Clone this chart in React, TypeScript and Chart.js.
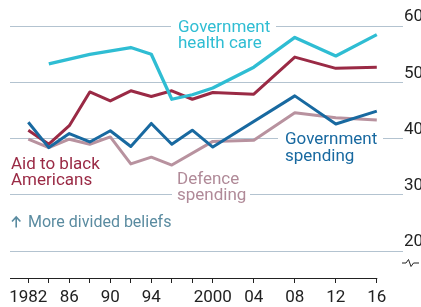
import React, { useEffect, useRef } from "react";
import { Chart, registerables } from "chart.js";

Chart.register(...registerables);

// ---- Data ----
const healthYears = [1984, 1988, 1992, 1994, 1996, 1998, 2000, 2004, 2008, 2012, 2016];
const healthValues = [53.3, 55.0, 56.2, 55.0, 47.0, 47.8, 49.0, 52.7, 58.0, 54.7, 58.5];

const aidYears = [1982, 1984, 1986, 1988, 1990, 1992, 1994, 1996, 1998, 2000, 2004, 2008, 2012, 2016];
const aidValues = [41.5, 39.0, 42.3, 48.3, 46.7, 48.5, 47.5, 48.5, 47.0, 48.2, 47.9, 54.5, 52.5, 52.7];

const spendingYears = [1982, 1984, 1986, 1988, 1990, 1992, 1994, 1996, 1998, 2000, 2008, 2012, 2016];
const spendingValues = [42.9, 38.4, 40.9, 39.4, 41.4, 38.6, 42.7, 39.0, 41.5, 38.5, 47.6, 42.6, 44.9];

const defenceYears = [1982, 1984, 1986, 1988, 1990, 1992, 1994, 1996, 2000, 2004, 2008, 2012, 2016];
const defenceValues = [39.9, 38.4, 39.9, 39.0, 40.3, 35.5, 36.7, 35.3, 39.5, 39.7, 44.6, 43.7, 43.3];

const xTickYears = [1982, 1984, 1986, 1988, 1990, 1992, 1994, 1996, 1998, 2000, 2004, 2008, 2012, 2016];
const xLabelYears = [1982, 1986, 1990, 1994, 2000, 2004, 2008, 2012, 2016];
const yTickValues = [20, 30, 40, 50, 60];

const COLORS = {
  health: "#2fbdd3",
  aid: "#9a2a45",
  spending: "#1869a0",
  defence: "#b8929f",
  defenceText: "#b08a98",
  note: "#5a8ba0",
  grid: "#b3c3d0",
  axis: "#222222",
};

const FONT = "Roboto, 'Noto Sans', sans-serif";

function toPoints(xs: number[], ys: number[]) {
  return xs.map((x, i) => ({ x, y: ys[i] }));
}

function formatYear(v: number) {
  if (!xLabelYears.includes(v)) return "";
  if (v === 1982 || v === 2000) return String(v);
  return String(v % 100).padStart(2, "0");
}

const decorPlugin = {
  id: "decor",
  beforeDatasetsDraw(chart: any) {
    const { ctx } = chart;
    const y = chart.scales.y;
    ctx.save();
    ctx.fillStyle = "#ffffff";
    const gaps = [
      { v: 60, x0: 171, x1: 276 },
      { v: 40, x0: 278, x1: 383 },
      { v: 30, x0: 172, x1: 250 },
    ];
    gaps.forEach((g) => {
      const py = y.getPixelForValue(g.v);
      ctx.fillRect(g.x0, py - 2, g.x1 - g.x0, 4);
    });
    ctx.restore();
  },
  afterDatasetsDraw(chart: any) {
    const { ctx, chartArea } = chart;
    const x = chart.scales.x;
    ctx.save();
    // x axis line
    ctx.strokeStyle = COLORS.axis;
    ctx.lineWidth = 1;
    ctx.beginPath();
    ctx.moveTo(chartArea.left, chartArea.bottom + 0.5);
    ctx.lineTo(x.getPixelForValue(2016) + 0.5, chartArea.bottom + 0.5);
    ctx.stroke();

    // axis break symbol
    ctx.beginPath();
    ctx.moveTo(402, 263);
    ctx.lineTo(406, 263);
    ctx.lineTo(408.5, 259.5);
    ctx.lineTo(411, 266.5);
    ctx.lineTo(413.5, 263);
    ctx.lineTo(419, 263);
    ctx.stroke();

    // labels
    ctx.textBaseline = "alphabetic";
    ctx.textAlign = "left";
    ctx.font = `17px ${FONT}`;
    ctx.fillStyle = COLORS.health;
    ctx.fillText("Government", 178, 31.5);
    ctx.fillText("health care", 178, 47.5);

    ctx.fillStyle = COLORS.aid;
    ctx.fillText("Aid to black", 11, 168.5);
    ctx.fillText("Americans", 11, 184.5);

    ctx.fillStyle = COLORS.defenceText;
    ctx.fillText("Defence", 177, 183.5);
    ctx.fillText("spending", 177, 199.5);

    ctx.fillStyle = COLORS.spending;
    ctx.fillText("Government", 285, 144);
    ctx.fillText("spending", 285, 160.5);

    // "More divided beliefs" with arrow
    ctx.fillStyle = COLORS.note;
    ctx.strokeStyle = COLORS.note;
    ctx.lineWidth = 1.6;
    ctx.beginPath();
    ctx.moveTo(16.2, 227.5);
    ctx.lineTo(16.2, 217);
    ctx.moveTo(12, 221.5);
    ctx.lineTo(16.2, 217);
    ctx.lineTo(20.4, 221.5);
    ctx.stroke();
    ctx.font = `16px ${FONT}`;
    ctx.fillText("More divided beliefs", 28, 226.8);
    ctx.restore();
  },
};

export default function App() {
  const canvasRef = useRef<HTMLCanvasElement | null>(null);

  useEffect(() => {
    if (!canvasRef.current) return;
    const common = {
      pointRadius: 0,
      borderWidth: 3,
      tension: 0,
      fill: false,
      borderJoinStyle: "round" as const,
      borderCapStyle: "butt" as const,
    };
    const chart = new Chart(canvasRef.current, {
      type: "line",
      data: {
        datasets: [
          { ...common, label: "Government spending", data: toPoints(spendingYears, spendingValues), borderColor: COLORS.spending },
          { ...common, label: "Government health care", data: toPoints(healthYears, healthValues), borderColor: COLORS.health, borderWidth: 3.3 },
          { ...common, label: "Aid to black Americans", data: toPoints(aidYears, aidValues), borderColor: COLORS.aid },
          { ...common, label: "Defence spending", data: toPoints(defenceYears, defenceValues), borderColor: COLORS.defence },
        ],
      },
      options: {
        animation: false,
        responsive: false,
        maintainAspectRatio: false,
        layout: { padding: { left: 10, top: 10, right: 0, bottom: 0 } },
        plugins: { legend: { display: false }, tooltip: { enabled: false }, title: { display: false } },
        scales: {
          x: {
            type: "linear",
            min: 1980.215,
            max: 2018.556,
            afterBuildTicks: (scale: any) => {
              scale.ticks = xTickYears.map((v) => ({ value: v }));
            },
            afterFit: (scale: any) => {
              scale.height = 29;
            },
            grid: {
              display: true,
              drawOnChartArea: false,
              drawTicks: true,
              tickLength: 5,
              color: COLORS.axis,
              lineWidth: 1,
            },
            border: { display: false },
            ticks: {
              autoSkip: false,
              maxRotation: 0,
              minRotation: 0,
              padding: 5,
              color: "#222222",
              font: { family: FONT, size: 17 },
              callback: (v: any) => formatYear(Number(v)),
            },
          },
          y: {
            type: "linear",
            position: "right",
            min: 15.21,
            max: 62.66,
            afterBuildTicks: (scale: any) => {
              scale.ticks = yTickValues.map((v) => ({ value: v }));
            },
            afterFit: (scale: any) => {
              scale.width = 18;
            },
            grid: {
              display: true,
              drawOnChartArea: true,
              drawTicks: false,
              color: COLORS.grid,
              lineWidth: 1,
            },
            border: { display: false },
            ticks: {
              padding: 1,
              labelOffset: -9,
              color: "#222222",
              font: { family: FONT, size: 17 },
              callback: (v: any) => String(v),
            },
          },
        },
      },
      plugins: [decorPlugin],
    });
    return () => chart.destroy();
  }, []);

  return (
    <div style={{ position: "fixed", left: 0, top: 0, width: 421, height: 307, background: "#fff", overflow: "hidden" }}>
      <canvas ref={canvasRef} width={421} height={307} style={{ display: "block" }} />
    </div>
  );
}
